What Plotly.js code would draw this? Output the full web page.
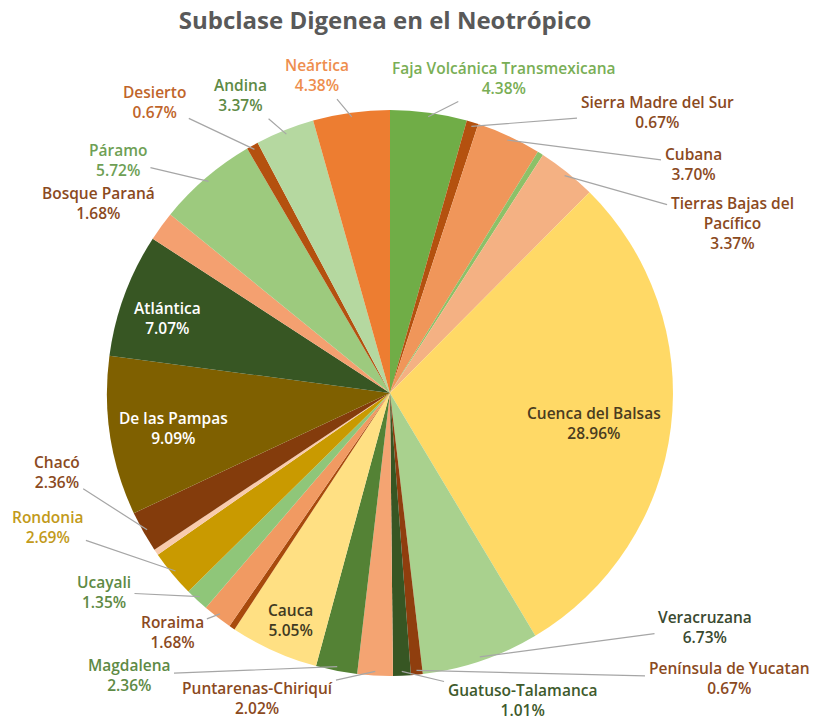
<!DOCTYPE html>
<html><head><meta charset="utf-8">
<script src="https://cdn.plot.ly/plotly-3.0.1.min.js"></script>
<style>
body{margin:0;background:#fff}
#chart{width:821px;height:723px}
</style>
</head><body><div id="chart"></div>
<script>
// Data (clockwise from 12 o'clock)
const regions = ["Faja Volcánica Transmexicana","Sierra Madre del Sur","Cubana","Sin etiqueta 1","Tierras Bajas del<br>Pacífico","Cuenca del Balsas","Veracruzana","Península de Yucatan","Guatuso-Talamanca","Puntarenas-Chiriquí","Magdalena","Cauca","Sin etiqueta 2","Roraima","Ucayali","Rondonia","Sin etiqueta 3","Chacó","De las Pampas","Atlántica","Bosque Paraná","Páramo","Desierto","Andina","Neártica"];
const counts = [13,2,11,1,10,86,20,2,3,6,7,15,1,5,4,8,1,7,27,21,5,17,2,10,13];
const showLabel = [1,1,1,0,1,1,1,1,1,1,1,1,0,1,1,1,0,1,1,1,1,1,1,1,1];

// Styles
const sliceColors = ["#70AD47","#B4510F","#F0965A","#8CC168","#F4B183","#FFD966","#A9D18E","#8F3E0E","#375623","#F4A472","#548235","#FFE083","#A84A0C","#F19A62","#8FC679","#C99A00","#F8CBAD","#843C0C","#7F6000","#375623","#F4A070","#9DCA7E","#B4510F","#B5D8A0","#ED7D31"];
const textColors = ["#79AE55","#8B4A1E","#8B4A1E","#000","#8B4A1E","#4A3C1F","#3A4A30","#8B4A1E","#3E5A2C","#8B4A1E","#5E8A45","#3F3A22","#000","#8B4A1E","#5E8A45","#C29A1A","#000","#8B4A1E","#FFFFFF","#FFFFFF","#8B4A1E","#6E9F55","#C0652A","#5E8A45","#EE8E4E"];
// label block centres in pixels (layout)
const labelPos = [[504,78],[657,112],[693,164],[0,0],[732,223],[594,423],[705,627],[729,678],[522,700],[257,698],[129,675],[290,620],[0,0],[172,632],[104,592],[47,527],[0,0],[57,472],[173,428],[167,318],[98,203],[118,160],[154,102],[241,95],[317,75]];
// 0 = leader line, 1 = no leader line
const noLine = [0,0,0,0,0,1,0,0,0,0,0,1,0,0,0,0,0,0,1,1,1,0,0,0,0];

const W = 821, H = 723;
const dom = {x: [0.1303, 0.8197], y: [0.065, 0.848]};
const cx = (dom.x[0] + dom.x[1]) / 2 * W;
const cy = (1 - (dom.y[0] + dom.y[1]) / 2) * H;
const R = Math.min((dom.x[1] - dom.x[0]) * W, (dom.y[1] - dom.y[0]) * H) / 2;

const total = counts.reduce((a, b) => a + b, 0);
const annotations = [];
let cum = 0;
const FONT = "'Open Sans', Roboto, 'DejaVu Sans', sans-serif";
counts.forEach((c, i) => {
  const mid = (cum + c / 2) / total * 2 * Math.PI;
  cum += c;
  if (!showLabel[i]) return;
  const pct = (c / total * 100).toFixed(2) + "%";
  const txt = regions[i] + "<br>" + pct;
  const [lx, ly] = labelPos[i];
  const font = {size: 15.5, color: textColors[i], family: FONT, weight: 600};
  if (noLine[i]) {
    annotations.push({text: txt, xref: "paper", yref: "paper", x: lx / W, y: 1 - ly / H,
      xanchor: "center", yanchor: "middle", showarrow: false, font: font});
  } else {
    const px = cx + R * 0.985 * Math.sin(mid);
    const py = cy - R * 0.985 * Math.cos(mid);
    annotations.push({text: txt, xref: "paper", yref: "paper", x: px / W, y: 1 - py / H,
      axref: "paper", ayref: "paper", ax: lx / W, ay: 1 - ly / H,
      xanchor: "center", yanchor: "middle",
      showarrow: true, arrowhead: 0, arrowwidth: 1.2, arrowcolor: "#A6A6A6", standoff: 0, startstandoff: 2,
      font: font});
  }
});

const data = [{
  type: "pie",
  labels: regions,
  values: counts,
  sort: false,
  direction: "clockwise",
  rotation: 0,
  marker: {colors: sliceColors, line: {width: 0}},
  textinfo: "none",
  showlegend: false,
  hoverinfo: "none",
  domain: dom
}];
const layout = {
  width: W, height: H,
  margin: {l: 0, r: 0, t: 0, b: 0},
  paper_bgcolor: "#ffffff",
  title: {text: "<b>Subclase Digenea en el Neotrópico</b>", x: 0.469, xanchor: "center", xref: "paper", y: 1 - 21 / H, yanchor: "middle",
          font: {size: 24, color: "#595959", family: FONT}},
  annotations: annotations,
  showlegend: false
};
Plotly.newPlot("chart", data, layout, {displayModeBar: false, staticPlot: true});
</script>
</body></html>
